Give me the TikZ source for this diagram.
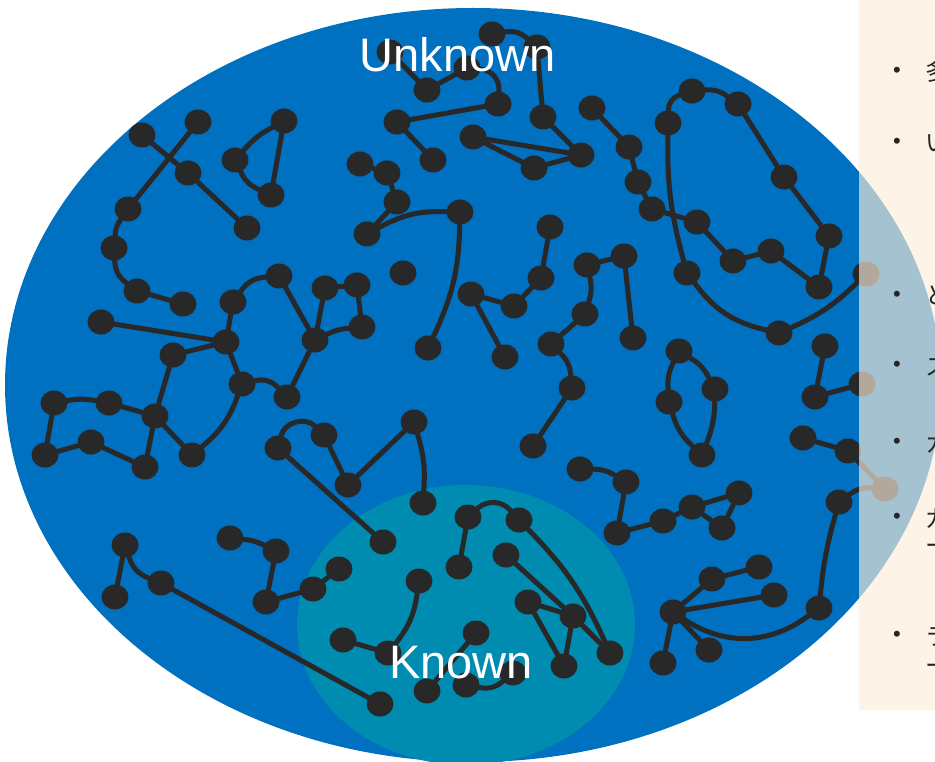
\documentclass[tikz,border=0pt]{standalone}
\usepackage{fontspec}
\setmainfont{Liberation Sans}
\newfontfamily\jpfont{Noto Sans CJK JP}
\usetikzlibrary{shapes.geometric}
\definecolor{skyblue}{RGB}{0,112,192}
\definecolor{knownteal}{RGB}{0,139,176}
\definecolor{dotgray}{RGB}{40,40,40}
\definecolor{panelbeige}{RGB}{252,238,217}
\definecolor{inkgray}{RGB}{38,38,38}
\pgfdeclarelayer{bg}
\pgfdeclarelayer{edges}
\pgfdeclarelayer{front}
\pgfsetlayers{bg,edges,main,front}
\tikzset{
  dot/.style={ellipse, fill=dotgray, minimum width=27pt, minimum height=25pt, inner sep=0pt},
  link/.style={draw=dotgray, line width=5pt, line cap=round},
  biglabel/.style={text=white, font=\fontsize{47}{56}\selectfont, anchor=base, inner sep=0pt},
  bulletmark/.style={text=inkgray, font=\fontsize{22}{26}\selectfont, anchor=center, inner sep=0pt},
  itemtext/.style={text=inkgray, font=\jpfont\fontsize{24}{28}\selectfont, anchor=base west, inner sep=0pt}
}
\begin{document}
\begin{tikzpicture}[x=1pt,y=-1pt]
\useasboundingbox (0,0) rectangle (935,762);

% the two regions
\begin{pgfonlayer}{bg}
  \fill[white] (0,0) rectangle (935,762);
  \fill[skyblue] (473,385) ellipse [x radius=468, y radius=377];
  \fill[knownteal] (466,625) ellipse [x radius=169, y radius=140];
\end{pgfonlayer}

% dots
\foreach \n/\x/\y in {
  A1/142/135, A2/198/122, A3/188/173, A4/247/228, A5/128/209, A6/114/248, A7/137/291, A8/183/304,
  B1/284/121, B2/235/160, B3/271/195,
  C1/101/322, C2/226/342, C3/233/302, C4/279/276, C5/173/355, C6/242/384,
  D1/315/340, D2/325/288, D3/357/285, D4/362/327, D5/287/397,
  F1/390/52, F2/427/90, F3/467/68, F4/492/34, F5/537/47, F6/498/104, F7/397/122, F8/433/160,
  F9/543/117, F10/473/137, F11/581/155, F12/534/168,
  G1/592/108, G2/629/147, G3/638/182,
  H1/360/164, H2/387/173, H3/397/202, H4/367/234, H5/460/212, H6/428/348,
  I1/403/273,
  J1/550/227, J2/541/278, J3/514/306, J4/471/294, J5/505/357,
  K1/551/344, K2/572/388, K3/533/446, K4/585/314, K5/587/265, K6/624/256, K7/633/338,
  L1/278/448, L2/324/435, L3/348/485, L4/414/422, L5/423/503, L6/383/542,
  M1/652/209, M2/697/222, M3/733/261, M4/771/251, M5/819/287, M6/829/236, M7/687/273,
  M8/779/333, M9/866/274, M10/692/91, M11/738/104, M12/784/177, M13/668/123,
  N1/679/351, N2/669/402, N3/715/389, N4/702/455,
  O1/825/346, O2/815/397, O3/862/384,
  P1/803/438, P2/848/451,
  Q1/580/469, Q2/626/482, Q3/617/533, Q4/663/521, Q5/692/507, Q6/739/493, Q7/722/528,
  R1/155/416, R2/54/403, R3/109/403, R4/45/455, R5/91/442, R6/145/467, R7/192/455,
  S1/125/545, S2/115/597, S3/161/583, S4/380/704,
  T1/230/538, T2/276/551, T3/266/602, T4/313/589, T5/339/569,
  U1/343/640, U2/388/653, U3/419/581,
  V1/468/517, V2/459/567, V3/519/520,
  W1/506/555, W2/528/602, W3/573/616, W4/564/666, W5/610/653,
  X1/476/633, X2/427/691, X3/466/685, X4/513/673,
  Y0/673/612, Y1/712/579, Y2/759/567, Y3/774/595, Y4/709/650, Y5/663/663, Y6/819/608,
  Z1/839/502, Z2/885/489}
  \node[dot] (\n) at (\x,\y) {};

% links between dots
\begin{pgfonlayer}{edges}
  \draw[link] (A1) -- (A3) (A3) -- (A4) (A2) -- (A5);
  \draw[link] (A5) to[bend right=15] (A6);
  \draw[link] (A6) to[bend right=25] (A7);
  \draw[link] (A7) -- (A8);
  \draw[link] (B1) to[bend right=10] (B2);
  \draw[link] (B2) to[bend right=20] (B3);
  \draw[link] (B1) -- (B3);
  \draw[link] (C1) -- (C2) (C2) -- (C3) (C2) -- (C5) (C2) -- (C6) (C4) -- (D1);
  \draw[link] (C3) to[bend left=25] (C4);
  \draw[link] (D1) -- (D2) (D2) -- (D3) (D3) -- (D4) (D1) -- (D5);
  \draw[link] (D4) to[bend right=10] (D1);
  \draw[link] (C6) to[bend left=30] (D5);
  \draw[link] (C5) -- (R1) (R1) -- (R3) (R2) -- (R4) (R4) -- (R5) (R5) -- (R6) (R6) -- (R1) (R1) -- (R7);
  \draw[link] (R3) to[bend right=10] (R2);
  \draw[link] (R7) to[bend right=15] (C6);
  \draw[link] (F1) -- (F2) (F2) -- (F3) (F6) -- (F7) (F7) -- (F8);
  \draw[link] (F3) to[bend left=45] (F6);
  \draw[link] (F4) to[bend left=25] (F5);
  \draw[link] (F5) -- (F9) (F9) -- (F11) (F10) -- (F11) (F10) -- (F12) (F12) -- (F11);
  \draw[link] (H1) -- (H2) (H2) -- (H3) (H3) -- (H4);
  \draw[link] (H4) to[bend left=15] (H5);
  \draw[link] (H5) to[bend left=12] (H6);
  \draw[link] (J1) -- (J2) (J2) -- (J3) (J3) -- (J4) (J4) -- (J5);
  \draw[link] (K3) -- (K2) (K1) -- (K4) (K5) -- (K6) (K6) -- (K7);
  \draw[link] (K1) to[bend left=20] (K2);
  \draw[link] (K4) to[bend right=15] (K5);
  \draw[link] (L1) to[bend left=60] (L2);
  \draw[link] (L2) -- (L3) (L3) -- (L4) (L1) -- (L6);
  \draw[link] (L4) to[bend left=10] (L5);
  \draw[link] (S1) -- (S2) (S3) -- (S4);
  \draw[link] (S1) to[bend right=25] (S3);
  \draw[link] (T1) to[bend left=10] (T2);
  \draw[link] (T2) -- (T3) (T3) -- (T4) (T4) -- (T5);
  \draw[link] (U1) -- (U2);
  \draw[link] (U2) to[bend right=15] (U3);
  \draw[link] (V1) -- (V2);
  \draw[link] (V1) to[bend left=45] (V3);
  \draw[link] (V3) to[bend left=10] (W5);
  \draw[link] (W1) -- (W3) (W2) -- (W3) (W2) -- (W4) (W3) -- (W4) (W3) -- (W5);
  \draw[link] (X1) -- (X2);
  \draw[link] (X3) to[bend right=25] (X4);
  \draw[link] (G1) -- (G2) (G2) -- (G3) (G3) -- (M1) (M1) -- (M2) (M2) -- (M3) (M3) -- (M4)
              (M4) -- (M5) (M5) -- (M6) (M6) -- (M12) (M12) -- (M11);
  \draw[link] (M11) to[bend right=20] (M10);
  \draw[link] (M10) to[bend right=35] (M13);
  \draw[link] (M13) to[bend right=8] (M7);
  \draw[link] (M7) to[bend right=20] (M8);
  \draw[link] (M8) to[bend right=10] (M9);
  \draw[link] (N1) to[bend right=15] (N2);
  \draw[link] (N2) to[bend right=15] (N4);
  \draw[link] (N1) to[bend left=15] (N3);
  \draw[link] (N3) to[bend left=10] (N4);
  \draw[link] (O1) -- (O2) (O2) -- (O3);
  \draw[link] (P1) -- (P2) (P2) -- (Z2);
  \draw[link] (Z1) to[bend left=20] (Z2);
  \draw[link] (Y6) to[bend left=5] (Z1);
  \draw[link] (Q1) to[bend left=15] (Q2);
  \draw[link] (Q2) -- (Q3) (Q3) -- (Q4) (Q4) -- (Q5) (Q5) -- (Q6) (Q6) -- (Q7) (Q7) -- (Q5);
  \draw[link] (Y0) -- (Y1) (Y1) -- (Y2) (Y0) -- (Y3) (Y0) -- (Y4) (Y0) -- (Y5);
  \draw[link] (Y0) to[bend right=35] (Y6);
\end{pgfonlayer}

\begin{pgfonlayer}{front}
  \node[biglabel] (unknown) at (457.5,72) {Unknown};
  \node[biglabel] (known) at (461,678) {Known};
  % side panel laid over the right edge
  \fill[panelbeige, opacity=0.65] (859,0) rectangle (960,710);
  \foreach \k/\yy/\t in {1/72/多, 2/143/い, 3/296/と, 4/366/ス, 5/443/カ, 6/518/ガ, 7/636/ラ}{
    \node[bulletmark] (b\k) at (897,\yy) {•};
    \node[itemtext] (t\k) at (925,\yy+9) {\t};
  }
  \node[itemtext] (t6b) at (925,554) {ー};
  \node[itemtext] (t7b) at (925,674) {ー};
\end{pgfonlayer}
\end{tikzpicture}
\end{document}
